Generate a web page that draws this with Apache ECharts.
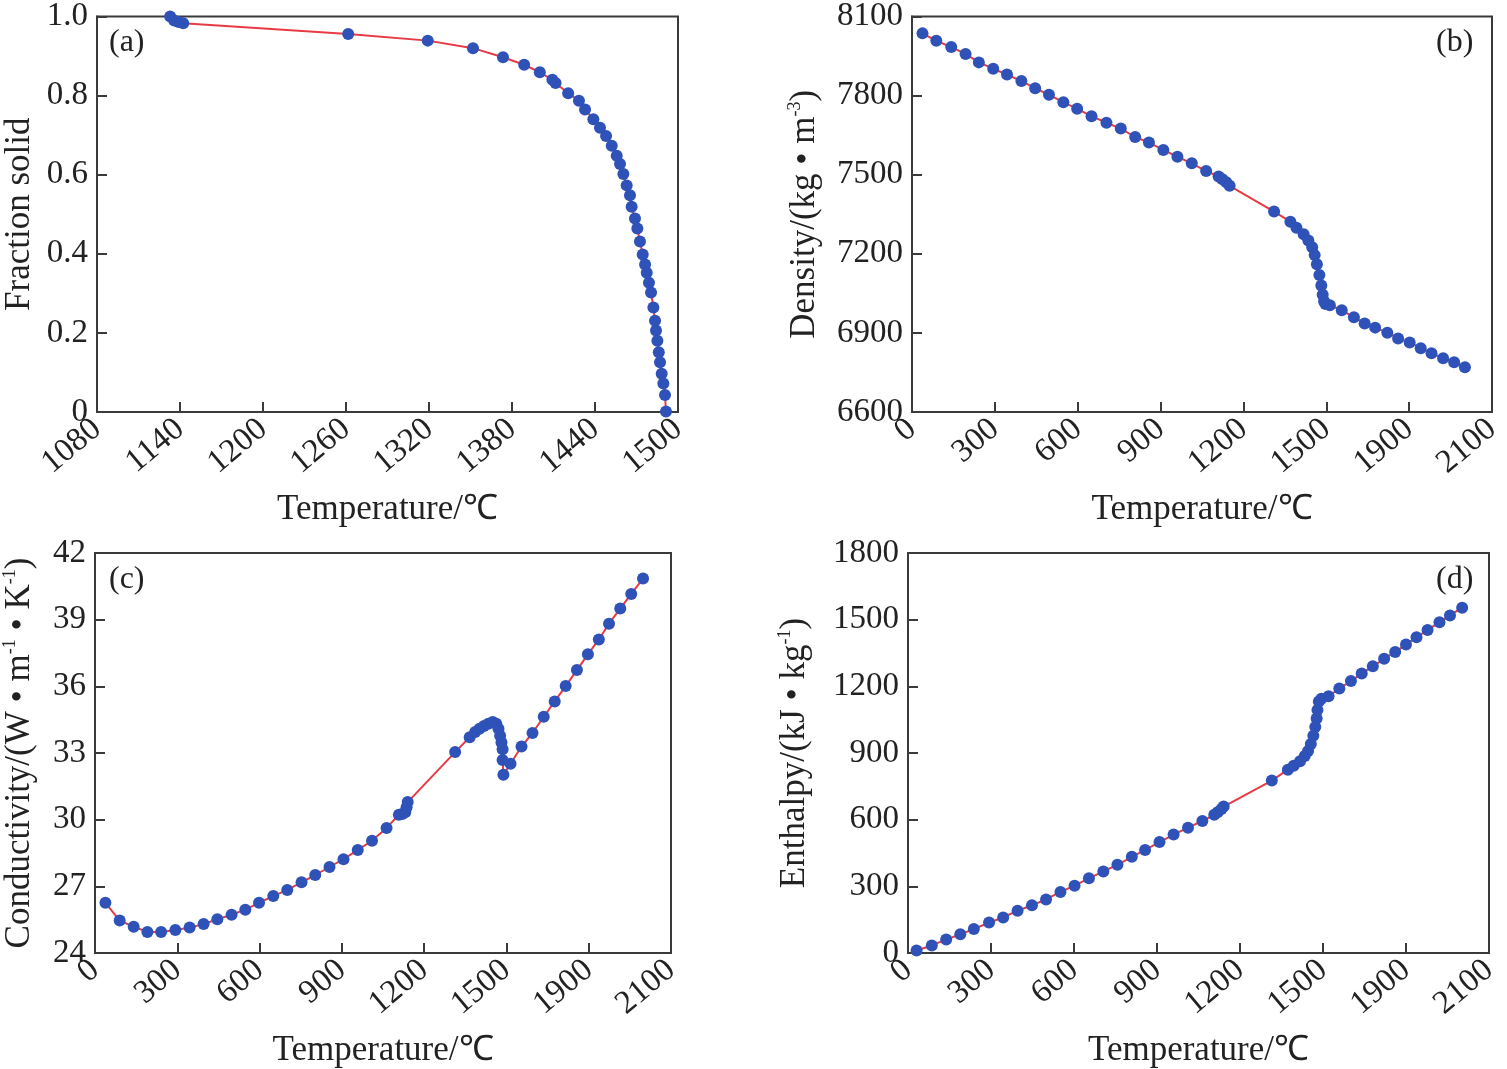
<!DOCTYPE html>
<html>
<head>
<meta charset="utf-8">
<script src="https://cdn.jsdelivr.net/npm/echarts@6/dist/echarts.min.js"></script>
<style>
html,body{margin:0;padding:0;background:#fff;}
#c{width:1507px;height:1069px;}
</style>
</head>
<body>
<div id="c"></div>
<script>
// ---------- (a) Fraction solid ----------
var tempA = [1132.9,1135.8,1139.0,1142.3,1261.6,1319.1,1351.8,1373.5,1388.8,1400.1,1409.2,1411.5,1420.6,1428.4,
  1432.8,1438.8,1443.6,1448.0,1452.1,1455.7,1458.1,1460.5,1462.9,1465.3,1466.5,1468.9,1470.6,1472.5,1474.5,
  1476.2,1477.4,1479.0,1480.5,1482.2,1483.4,1484.1,1485.1,1486.1,1487.0,1488.2,1489.4,1490.6,1491.3];
var fracA = [1.0,0.990,0.986,0.983,0.956,0.939,0.920,0.897,0.878,0.859,0.840,0.832,0.806,0.787,
  0.765,0.740,0.719,0.698,0.673,0.648,0.627,0.602,0.573,0.548,0.519,0.489,0.464,0.431,0.398,
  0.373,0.352,0.327,0.302,0.264,0.231,0.206,0.180,0.151,0.126,0.097,0.072,0.043,0.001];

// ---------- (b) Density ----------
var tempB = [38,88,142,194,242,294,344,396,446,496,548,598,650,704,756,808,858,910,961,1013,1065,1110,1124,1138,1150,
  1311,1370,1392,1418,1435,1449,1458,1466,1475,1482,1487,1492,1497,
  1513,1556,1600,1639,1677,1721,1760,1802,1842,1881,1923,1963,2002];
var densB = [8036,8008,7984,7958,7926,7902,7880,7855,7828,7803,7775,7750,7722,7697,7675,7643,7622,7594,7568,7543,7514,7493,7483,7471,7458,
  7360,7322,7299,7274,7250,7225,7195,7160,7120,7080,7045,7020,7010,
  7005,6986,6959,6936,6920,6901,6879,6864,6842,6823,6804,6789,6770];

// ---------- (c) Conductivity ----------
var tempC = [38,90,141,191,241,293,345,396,446,498,548,598,650,701,753,803,855,906,958,1010,1063,1108,1120,1131,1136,1140,
  1313,1366,1386,1402,1418,1434,1450,1463,1471,1477,1482,1486,1486,1489,
  1515,1555,1595,1636,1676,1716,1757,1797,1837,1874,1915,1955,1998];
var condC = [26.26,25.46,25.18,24.95,24.95,25.03,25.15,25.30,25.52,25.72,25.95,26.26,26.56,26.84,27.18,27.51,27.87,28.22,28.64,29.05,29.63,30.22,30.25,30.33,30.56,30.79,
  33.04,33.71,33.94,34.09,34.21,34.32,34.40,34.32,34.09,33.78,33.47,33.17,32.68,32.02,
  32.52,33.29,33.90,34.63,35.32,36.01,36.73,37.44,38.11,38.82,39.50,40.16,40.85];

// ---------- (d) Enthalpy ----------
var tempD = [31,86,138,189,238,293,344,396,448,499,551,602,654,706,757,809,857,909,960,1012,1064,1107,1119,1133,1141,
  1315,1373,1394,1417,1434,1446,1456,1465,1472,1477,1480,1485,1494,
  1520,1559,1601,1640,1680,1721,1761,1800,1838,1878,1921,1959,2003];
var enthD = [11,34,61,84,108,137,160,190,215,241,275,303,336,367,397,433,464,499,533,564,594,622,633,648,659,
  776,825,843,863,886,909,940,978,1017,1055,1093,1132,1144,
  1155,1190,1224,1258,1290,1324,1355,1388,1421,1454,1488,1519,1554];

// ---------- axis ticks ----------
var xTicksA = {min:1080, max:1500, interval:60};
var xTicksT = {min:0, max:2100, interval:300};
var yTicksA = {min:0, max:1.0, interval:0.2};
var yTicksB = {min:6600, max:8100, interval:300};
var yTicksC = {min:24, max:42, interval:3};
var yTicksD = {min:0, max:1800, interval:300};
var tickLabelSwap = {1800:'1900'};

var FONT = 'Liberation Serif';
var AX = '#3a3a3a';
function pairs(xs, ys){ return xs.map(function(x,i){ return [x, ys[i]]; }); }

var grids = [
  {left:97, top:12, width:581, height:400},
  {left:912, top:12, width:580, height:400},
  {left:93, top:553, width:578, height:400},
  {left:908, top:553, width:581, height:400}
];
grids.forEach(function(g){ g.show = true; g.borderColor = AX; g.borderWidth = 2; g.backgroundColor = 'transparent'; });

function xAxis(idx, ticks, fmt){
  return {
    type:'value', gridIndex:idx, min:ticks.min, max:ticks.max, interval:ticks.interval,
    name:'Temperature/\u2103', nameLocation:'middle', nameGap:80,
    nameTextStyle:{fontFamily:FONT, fontSize:35, color:'#222'},
    axisLine:{show:true, lineStyle:{color:AX, width:2}},
    axisTick:{show:true, inside:true, length:10, lineStyle:{color:AX, width:2}},
    splitLine:{show:false},
    axisLabel:{rotate:40, margin:13, fontFamily:FONT, fontSize:33, color:'#222', formatter:fmt}
  };
}
function yAxis(idx, ticks, name, gap, fmt){
  return {
    type:'value', gridIndex:idx, min:ticks.min, max:ticks.max, interval:ticks.interval,
    name:name, nameLocation:'middle', nameGap:gap,
    nameTextStyle:{fontFamily:FONT, fontSize:35, color:'#222',
      rich:{
        t:{fontFamily:FONT, fontSize:35, color:'#222', lineHeight:38},
        s:{fontFamily:FONT, fontSize:18, color:'#222', verticalAlign:'top', lineHeight:38}
      }},
    axisLine:{show:true, lineStyle:{color:AX, width:2}},
    axisTick:{show:true, inside:true, length:10, lineStyle:{color:AX, width:2}},
    splitLine:{show:false},
    axisLabel:{margin:9, fontFamily:FONT, fontSize:33, color:'#222', formatter:fmt}
  };
}
var fmtT = function(v){ return tickLabelSwap[v] || String(v); };
var fmtA = function(v){ return v === 0 ? '0' : v.toFixed(1); };
var fmtPlain = function(v){ return String(v); };

function series(idx, data){
  return {
    type:'line', xAxisIndex:idx, yAxisIndex:idx, data:data,
    symbol:'circle', symbolSize:12, showSymbol:true,
    lineStyle:{color:'#e83a45', width:2},
    itemStyle:{color:'#2f52b8', borderWidth:0},
    emphasis:{disabled:true}
  };
}

var option = {
  animation:false,
  backgroundColor:'#fff',
  grid:grids,
  xAxis:[xAxis(0, xTicksA, fmtPlain), xAxis(1, xTicksT, fmtT), xAxis(2, xTicksT, fmtT), xAxis(3, xTicksT, fmtT)],
  yAxis:[
    yAxis(0, yTicksA, 'Fraction solid', 60, fmtA),
    yAxis(1, yTicksB, '{t|Density/(kg \u2022 m}{s|-3}{t|)}', 88, fmtPlain),
    yAxis(2, yTicksC, '{t|Conductivity/(W \u2022 m}{s|-1}{t| \u2022 K}{s|-1}{t|)}', 56, fmtPlain),
    yAxis(3, yTicksD, '{t|Enthalpy/(kJ \u2022 kg}{s|-1}{t|)}', 94, fmtPlain)
  ],
  graphic:[
    {type:'text', left:109, top:27, style:{text:'(a)', font:'32px "Liberation Serif"', fill:'#222'}},
    {type:'text', left:1436, top:27, style:{text:'(b)', font:'32px "Liberation Serif"', fill:'#222'}},
    {type:'text', left:109, top:564, style:{text:'(c)', font:'32px "Liberation Serif"', fill:'#222'}},
    {type:'text', left:1436, top:564, style:{text:'(d)', font:'32px "Liberation Serif"', fill:'#222'}}
  ],
  series:[
    series(0, pairs(tempA, fracA)),
    series(1, pairs(tempB, densB)),
    series(2, pairs(tempC, condC)),
    series(3, pairs(tempD, enthD))
  ]
};
var chart = echarts.init(document.getElementById('c'));
chart.setOption(option);
</script>
</body>
</html>
